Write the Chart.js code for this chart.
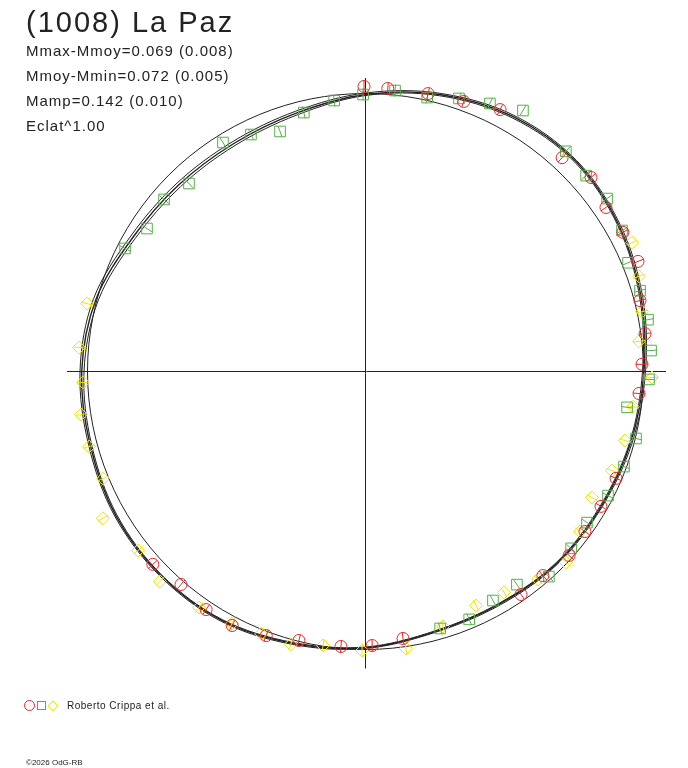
<!DOCTYPE html>
<html>
<head>
<meta charset="utf-8">
<script src="https://cdn.jsdelivr.net/npm/chart.js@4"></script>
<style>
  body { margin: 0; background: #fff; }
  #wrap { position: relative; width: 688px; height: 768px; }
  canvas { display: block; }
  .txt { position: absolute; left: 26px; color: #222; font-family: "Liberation Sans", Arial, sans-serif; line-height: 1; white-space: nowrap; }
  .stat { font-size: 15px; letter-spacing: 1px; }
  .key { position: absolute; top: 700px; box-sizing: border-box; }
</style>
</head>
<body>
<div id="wrap">
  <canvas id="chart" width="688" height="768"></canvas>
  <div class="txt" style="top:8px;font-size:29px;letter-spacing:2px">(1008) La Paz</div>
  <div class="txt stat" style="top:43px">Mmax-Mmoy=0.069 (0.008)</div>
  <div class="txt stat" style="top:68px">Mmoy-Mmin=0.072 (0.005)</div>
  <div class="txt stat" style="top:93px">Mamp=0.142 (0.010)</div>
  <div class="txt stat" style="top:118px">Eclat^1.00</div>
  <div class="key" style="left:24px;width:11px;height:11px;border:1px solid #e8262b;border-radius:50%"></div>
  <div class="key" style="left:37px;top:701px;width:9px;height:9px;border:1px solid #55b047"></div>
  <div class="key" style="left:49px;top:702px;width:8px;height:8px;border:1px solid #f2e600;transform:rotate(45deg)"></div>
  <div class="txt" style="left:67px;top:701px;font-size:10px;letter-spacing:0.5px">Roberto Crippa et al.</div>
  <div class="txt" style="top:759px;font-size:8px">©2026 OdG-RB</div>
</div>
<script>
// polar lightcurve: angle = rotational phase in degrees, radius in plot units
const refRadius = 278;

const redAngle = [90.3, 85.5, 77.3, 70.0, 62.8, 47.4, 40.7, 34.3, 28.4, 22.0, 14.5, 7.7, 1.5, -4.6, -23.1, -29.8, -36.1, -42.1, -49.0, -55.1, -82.0, -88.6, -95.1, -103.9, -110.6, -117.7, -123.8, -130.9, -137.8];
const redRadius = [285.0, 283.9, 284.9, 287.4, 294.5, 290.5, 297.5, 291.1, 292.6, 293.9, 283.5, 282.1, 276.6, 274.4, 272.4, 271.4, 271.6, 274.4, 270.4, 271.9, 269.6, 274.1, 276.1, 277.1, 282.1, 286.9, 286.5, 281.8, 287.1];

const greenAngle = [96.6, 90.5, 84.0, 77.3, 71.1, 65.1, 58.9, 103.4, 109.6, 115.8, 121.9, 133.2, 139.5, 146.8, 152.9, 47.7, 41.6, 35.6, 28.8, 22.5, 16.4, 10.4, 4.2, -1.6, -7.8, -13.9, -20.2, -27.1, -34.3, -40.7, -48.2, -54.6, -60.9, -67.3, -73.8];
const greenRadius = [272.8, 277.0, 282.5, 280.8, 288.6, 295.5, 304.8, 266.2, 254.8, 263.2, 269.7, 257.9, 264.9, 261.1, 270.1, 297.7, 295.0, 297.1, 292.7, 284.2, 286.2, 287.2, 286.3, 283.6, 264.0, 278.7, 275.4, 272.4, 268.1, 271.2, 275.1, 261.4, 262.1, 268.7, 267.6];

const yellowAngle = [166.3, 175.2, 182.2, 188.6, 195.2, 202.2, 209.2, 218.2, 225.6, 234.8, 242.1, 248.3, 254.7, 261.2, 269.3, 278.3, 286.9, 295.3, 302.1, 309.7, 316.4, 323.3, 330.9, 338.1, 345.1, 352.5, 358.8, 6.3, 12.2, 19.2, 25.8];
const yellowRadius = [286.7, 287.5, 282.7, 287.7, 286.5, 283.5, 300.9, 289.5, 293.8, 288.8, 285.2, 282.1, 283.0, 277.3, 279.0, 279.9, 266.5, 258.8, 260.8, 270.2, 276.9, 267.6, 259.2, 265.6, 268.5, 269.8, 286.6, 275.1, 282.9, 289.5, 296.1];

// fitted curves, read every 15 degrees
const fitAngle = [0, 15, 30, 45, 60, 75, 90, 105, 120, 135, 150, 165, 180, 195, 210, 225, 240, 255, 270, 285, 300, 315, 330, 345];
const fitRadius1 = [278.5, 285.4, 292.6, 297.3, 294.5, 286.8, 277.0, 267.5, 263.3, 264.0, 268.5, 279.0, 283.8, 285.0, 288.3, 289.0, 287.5, 281.5, 276.3, 269.3, 268.4, 271.0, 271.6, 274.6];
const fitRadius2 = [280.0, 287.0, 294.0, 298.5, 296.0, 288.0, 278.5, 269.5, 265.5, 266.5, 271.0, 281.5, 285.5, 286.5, 289.5, 290.0, 288.5, 282.5, 277.0, 270.0, 269.5, 272.0, 272.5, 276.0];
const fitRadius3 = [277.0, 284.0, 291.5, 296.0, 293.0, 285.5, 276.0, 265.5, 261.0, 261.5, 266.0, 276.5, 281.5, 283.5, 287.0, 288.0, 286.5, 280.5, 275.5, 268.5, 267.5, 270.0, 270.5, 273.5];

const RED = '#e8262b';
const GREEN = '#55b047';
const YELLOW = '#f2e600';
const INK = '#222';

const toXY = (a, r) => ({ x: r * Math.cos(a * Math.PI / 180), y: r * Math.sin(a * Math.PI / 180) });

function markers(angles, radii, color, style, size) {
  return {
    data: angles.map((a, i) => toXY(a, radii[i])),
    showLine: false,
    pointStyle: style,
    pointRadius: size,
    pointBorderWidth: 1,
    borderColor: color,
    backgroundColor: 'transparent',
  };
}

// little radial error ticks through each mark
function ticks(angles, radii, color) {
  return {
    data: angles.map((a, i) => toXY(a, radii[i])),
    showLine: false,
    pointStyle: 'line',
    pointRadius: 6,
    pointBorderWidth: 1,
    pointRotation: ctx => -angles[ctx.dataIndex],
    borderColor: color,
  };
}

// closed curve: wrap one point on each side and hide the wrap segments
function curve(radii, width) {
  const n = fitAngle.length;
  const idx = [n - 1, ...fitAngle.map((_, i) => i), 0, 1];
  const last = idx.length - 1;
  return {
    data: idx.map(i => toXY(fitAngle[i], radii[i])),
    showLine: true,
    tension: 0.34,
    borderColor: INK,
    borderWidth: width,
    pointRadius: 0,
    segment: {
      borderColor: ctx => (ctx.p0DataIndex === 0 || ctx.p1DataIndex === last) ? 'transparent' : INK,
    },
  };
}

const frame = {
  id: 'frame',
  beforeDatasetsDraw(chart) {
    const { ctx, scales: { x, y } } = chart;
    const cx = x.getPixelForValue(0), cy = y.getPixelForValue(0);
    ctx.save();
    ctx.strokeStyle = INK;
    ctx.lineWidth = 1;
    ctx.beginPath();
    ctx.moveTo(x.getPixelForValue(-298.5), cy);
    ctx.lineTo(x.getPixelForValue(300.5), cy);
    ctx.moveTo(cx, y.getPixelForValue(293.5));
    ctx.lineTo(cx, y.getPixelForValue(-297));
    ctx.stroke();
    ctx.beginPath();
    ctx.arc(cx, cy, x.getPixelForValue(refRadius) - cx, 0, Math.PI * 2);
    ctx.stroke();
    ctx.restore();
  }
};

new Chart(document.getElementById('chart'), {
  type: 'scatter',
  data: {
    datasets: [
      ticks(redAngle, redRadius, RED),
      markers(redAngle, redRadius, RED, 'circle', 6),
      ticks(greenAngle, greenRadius, GREEN),
      markers(greenAngle, greenRadius, GREEN, 'rect', 7.5),
      ticks(yellowAngle, yellowRadius, YELLOW),
      markers(yellowAngle, yellowRadius, YELLOW, 'rectRot', 6.5),
      curve(fitRadius1, 1.4),
      curve(fitRadius2, 1),
      curve(fitRadius3, 1),
    ],
  },
  options: {
    responsive: false,
    animation: false,
    clip: false,
    layout: { padding: { left: 65.5, right: 22.5, top: 71.5, bottom: 96.5 } },
    scales: {
      x: { type: 'linear', min: -300, max: 300, display: false },
      y: { type: 'linear', min: -300, max: 300, display: false },
    },
    plugins: { legend: { display: false }, tooltip: { enabled: false } },
  },
  plugins: [frame],
});
</script>
</body>
</html>
